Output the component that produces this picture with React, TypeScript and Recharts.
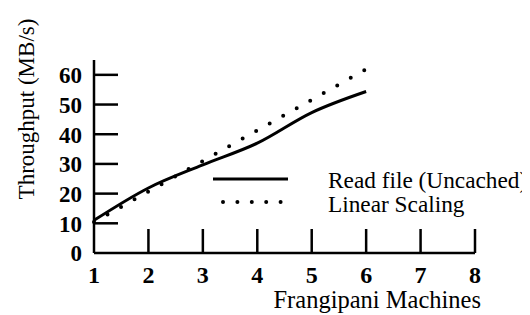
import { LineChart, Line, XAxis, YAxis, Legend, Label } from "recharts"

// values
const machines = [1, 2, 3, 4, 5, 6]
const readUncached = [11, 21.9, 29.7, 37, 47.3, 54.4]
const linearScaling = [10.4, 20.7, 31, 41.3, 51.6, 61.9]
const xTicks = [1, 2, 3, 4, 5, 6, 7, 8]
const yTicks = [0, 10, 20, 30, 40, 50, 60]
const legendOrder = ["read", "linear"]

const data = machines.map((m, i) => ({
  machines: m,
  read: readUncached[i],
  linear: linearScaling[i],
}))

const serif = '"Liberation Serif", "Times New Roman", serif'

function YTick(props: any) {
  const { x, y, payload } = props
  return (
    <g>
      {payload.value !== 0 && (
        <line x1={x + 12} x2={x + 36} y1={y} y2={y} stroke="#000" strokeWidth={2.5} />
      )}
      <text x={x} y={y} dy="0.36em" textAnchor="end" fontFamily={serif} fontWeight="bold" fontSize={23} fill="#000">
        {payload.value}
      </text>
    </g>
  )
}

function XTick(props: any) {
  const { x, y, payload } = props
  return (
    <g>
      {payload.value !== 1 && (
        <line x1={x} x2={x} y1={y} y2={y - 24} stroke="#000" strokeWidth={2.5} />
      )}
      <text x={x} y={y + 30} textAnchor="middle" fontFamily={serif} fontWeight="bold" fontSize={24} fill="#000">
        {payload.value}
      </text>
    </g>
  )
}

function LegendContent(props: any) {
  const items = [...(props.payload || [])].sort(
    (a: any, b: any) => legendOrder.indexOf(a.dataKey) - legendOrder.indexOf(b.dataKey)
  )
  return (
    <div style={{ fontFamily: serif, fontSize: 23.3, lineHeight: "24px", color: "#000" }}>
      {items.map((item: any) => (
        <div key={item.dataKey} style={{ display: "flex", alignItems: "center", height: 24 }}>
          <svg width={76} height={24} style={{ display: "block" }}>
            {item.dataKey === "read" ? (
              <line x1={0} x2={75} y1={11} y2={11} stroke="#000" strokeWidth={3} />
            ) : (
              <line x1={10} x2={76} y1={10} y2={10} stroke="#000" strokeWidth={4} strokeDasharray="0 14.4" strokeLinecap="round" />
            )}
          </svg>
          <span style={{ marginLeft: 39, whiteSpace: "nowrap" }}>{item.value}</span>
        </div>
      ))}
    </div>
  )
}

export default function App() {
  return (
    <LineChart width={522} height={307} data={data} margin={{ top: 4, right: 55, bottom: 0, left: 0 }}>
      <XAxis
        dataKey="machines"
        type="number"
        domain={[1, 8]}
        ticks={xTicks}
        height={62}
        tickSize={0}
        tickMargin={0}
        tickLine={false}
        axisLine={{ stroke: "#000", strokeWidth: 2.5 }}
        tick={<XTick />}
        interval={0}
      >
        <Label
          content={(p: any) => {
            const vb = p.viewBox
            return (
              <text x={vb.x + vb.width + 6} y={vb.y + 55} textAnchor="end" fontFamily={serif} fontSize={24.5} fill="#000">
                Frangipani Machines
              </text>
            )
          }}
        />
      </XAxis>
      <YAxis
        type="number"
        domain={[0, 65]}
        ticks={yTicks}
        width={86}
        tickSize={0}
        tickMargin={12}
        tickLine={false}
        axisLine={{ stroke: "#000", strokeWidth: 2.5 }}
        tick={<YTick />}
        interval={0}
      >
        <Label
          content={() => (
            <text x={18} y={101} transform="rotate(-90 18 101)" textAnchor="middle" dy="0.35em" fontFamily={serif} fontSize={23} fill="#000">
              Throughput (MB/s)
            </text>
          )}
        />
      </YAxis>
      <Legend
        content={<LegendContent />}
        verticalAlign="top"
        align="left"
        wrapperStyle={{ position: "absolute", left: 205, top: 160, width: "auto" }}
      />
      <Line
        dataKey="read"
        name="Read file (Uncached)"
        type="monotone"
        stroke="#000"
        strokeWidth={3}
        dot={false}
        isAnimationActive={false}
      />
      <Line
        dataKey="linear"
        name="Linear Scaling"
        type="linear"
        stroke="#000"
        strokeWidth={4}
        strokeDasharray="0 15.5"
        strokeLinecap="round"
        dot={false}
        isAnimationActive={false}
      />
    </LineChart>
  )
}
